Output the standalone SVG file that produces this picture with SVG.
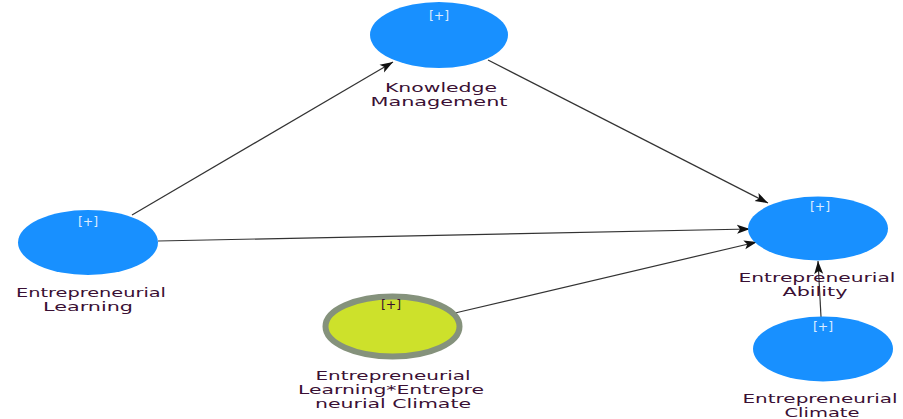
<svg xmlns="http://www.w3.org/2000/svg" width="903" height="419" viewBox="0 0 903 419">
<style>
.n{fill:#1890ff}
.m{fill:#cde12b;stroke:#85927c;stroke-width:6}
.p{font-family:"DejaVu Sans",sans-serif;font-size:12.5px;fill:#dcecff;text-anchor:middle}
.pd{fill:#3a1030}
.l{font-family:"DejaVu Sans",sans-serif;font-size:13px;fill:#3a1034;text-anchor:middle}
.c{stroke:#333;stroke-width:1.2;fill:none;marker-end:url(#a)}
</style>
<defs>
<marker id="a" markerUnits="userSpaceOnUse" markerWidth="14" markerHeight="10" refX="13" refY="5" orient="auto">
<path d="M0,0.5 L13,5 L0,9.5 L3,5 z" fill="#111"/>
</marker>
</defs>
<rect width="903" height="419" fill="#fff"/>
<g id="connectors">
<line class="c" x1="132" y1="215" x2="393" y2="62"/>
<line class="c" x1="488" y1="60" x2="768" y2="203"/>
<line class="c" x1="158" y1="241" x2="750" y2="229"/>
<line class="c" x1="455" y1="313" x2="757" y2="242"/>
<line class="c" x1="821" y1="317" x2="818" y2="261"/>
</g>
<g id="km">
<ellipse class="n" cx="439" cy="35" rx="69" ry="33"/>
<text class="p" x="439" y="20">[+]</text>
<text class="l" x="441" y="92" textLength="112" lengthAdjust="spacingAndGlyphs">Knowledge</text>
<text class="l" x="439" y="106" textLength="137" lengthAdjust="spacingAndGlyphs">Management</text>
</g>
<g id="el">
<ellipse class="n" cx="88" cy="242.5" rx="70" ry="32.5"/>
<text class="p" x="88" y="226">[+]</text>
<text class="l" x="91" y="297" textLength="150" lengthAdjust="spacingAndGlyphs">Entrepreneurial</text>
<text class="l" x="88" y="311" textLength="90" lengthAdjust="spacingAndGlyphs">Learning</text>
</g>
<g id="elxec">
<ellipse class="m" cx="392.5" cy="326.5" rx="67" ry="30"/>
<text class="p pd" x="391" y="309">[+]</text>
<text class="l" x="393" y="380" textLength="155" lengthAdjust="spacingAndGlyphs">Entrepreneurial</text>
<text class="l" x="391" y="394" textLength="186" lengthAdjust="spacingAndGlyphs">Learning*Entrepre</text>
<text class="l" x="393" y="408" textLength="156" lengthAdjust="spacingAndGlyphs">neurial Climate</text>
</g>
<g id="ea">
<ellipse class="n" cx="818" cy="228.5" rx="70" ry="32"/>
<text class="p" x="820" y="211">[+]</text>
<text class="l" x="817" y="282" textLength="157" lengthAdjust="spacingAndGlyphs">Entrepreneurial</text>
<text class="l" x="815" y="296" textLength="65" lengthAdjust="spacingAndGlyphs">Ability</text>
</g>
<g id="ec">
<ellipse class="n" cx="823" cy="349" rx="70" ry="32.5"/>
<text class="p" x="823" y="331">[+]</text>
<text class="l" x="820" y="403" textLength="155" lengthAdjust="spacingAndGlyphs">Entrepreneurial</text>
<text class="l" x="822" y="417" textLength="75" lengthAdjust="spacingAndGlyphs">Climate</text>
</g>
</svg>
